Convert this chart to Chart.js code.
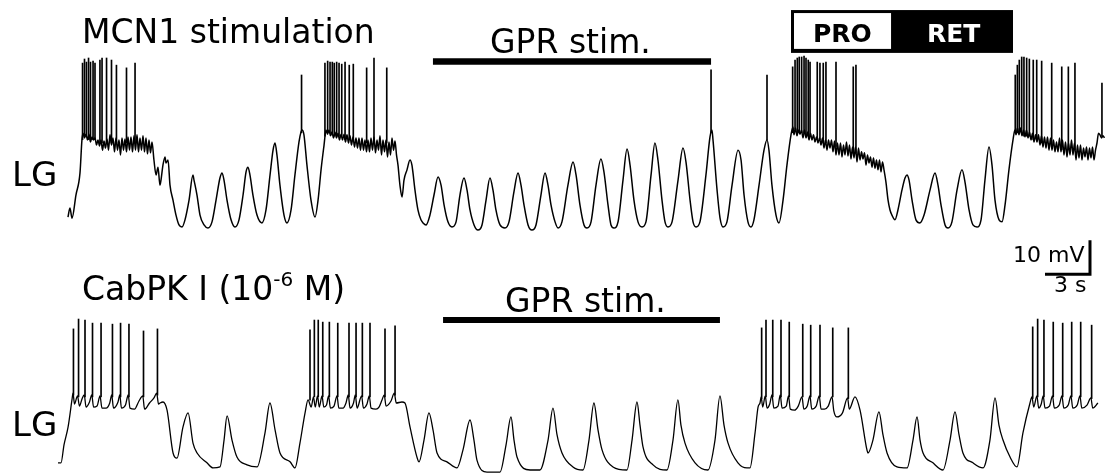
<!DOCTYPE html>
<html>
<head>
<meta charset="utf-8">
<script src="https://cdn.jsdelivr.net/npm/chart.js@4"></script>
<style>
  body { margin: 0; background: #fff; }
  #fig { position: relative; width: 1106px; height: 474px; overflow: hidden; }
  canvas { position: absolute; left: 0; }
  .lbl { position: absolute; line-height: 1; white-space: nowrap; font-family: 'DejaVu Sans', sans-serif; color: #000; z-index: 2; }
  .bold { font-weight: bold; font-size: 25px; }
</style>
</head>
<body>
<div id="fig">
  <canvas id="top" width="1106" height="237" style="top:0"></canvas>
  <canvas id="bottom" width="1106" height="237" style="top:237px"></canvas>

  <div class="lbl" style="left:82px;top:15px;font-size:33px">MCN1 stimulation</div>
  <div class="lbl" style="left:490px;top:25px;font-size:33px">GPR stim.</div>
  <div class="lbl bold" style="left:813px;top:21px">PRO</div>
  <div class="lbl bold" style="left:927px;top:21px;color:#fff">RET</div>
  <div class="lbl" style="left:12px;top:157px;font-size:34px">LG</div>

  <div class="lbl" style="left:82px;top:272px;font-size:33px">CabPK I (10<span style="font-size:20px;position:relative;top:-14px">-6</span> M)</div>
  <div class="lbl" style="left:505px;top:284px;font-size:33px">GPR stim.</div>
  <div class="lbl" style="left:12px;top:407px;font-size:34px">LG</div>
  <div class="lbl" style="left:1013px;top:244px;font-size:22px">10 mV</div>
  <div class="lbl" style="left:1054px;top:274px;font-size:22px">3 s</div>
</div>

<script>
// ---- top trace: MCN1 stimulation (time s, membrane potential mV) ----
const topBurst1 = [
  [0.00,-61.8],[0.13,-59.1],[0.27,-62.1],[0.53,-55.3],[0.80,-48.8],[0.93,-39.1],
  [1.0,-37.1],[1.1,-38.5],[1.2,-37.4],[1.3,-39.1],[1.4,-37.4],[1.5,-39.7],[1.6,-38.2],[1.7,-39.1],[1.8,-38.5],[1.9,-40.6],
  [2.0,-39.1],[2.1,-40.9],[2.2,-39.1],[2.3,-42.1],[2.4,-39.4],[2.5,-41.5],[2.6,-38.8],[2.7,-42.1],[2.8,-37.6],[2.9,-40.6],
  [3.0,-38.5],[3.1,-42.6],[3.2,-38.5],[3.3,-42.1],[3.4,-39.1],[3.5,-43.5],[3.6,-38.5],[3.7,-42.1],[3.8,-38.8],[3.9,-42.6],
  [4.0,-38.2],[4.1,-42.1],[4.2,-38.2],[4.3,-42.6],[4.4,-37.9],[4.5,-42.1],[4.6,-37.6],[4.7,-42.6],[4.8,-38.5],[4.9,-42.1],
  [5.0,-37.9],[5.1,-42.6],[5.2,-38.5],[5.3,-43.2],[5.4,-39.1],[5.5,-42.9],[5.6,-39.7]
]
const topCycles1 = [
  [5.73,-45.0],[5.87,-49.4],[6.00,-47.1],[6.13,-52.4],[6.20,-50.9],[6.33,-46.5],[6.47,-44.1],[6.53,-45.9],[6.67,-45.0],
  [6.80,-52.4],[7.00,-56.8],[7.20,-61.2],[7.40,-64.1],[7.60,-64.7],[7.80,-62.6],[8.07,-56.8],[8.33,-49.4],[8.40,-50.9],
  [8.60,-55.3],[8.80,-61.2],[9.07,-64.1],[9.33,-65.0],[9.60,-63.2],[9.87,-56.8],[10.13,-50.3],[10.27,-48.8],[10.40,-50.9],
  [10.60,-56.8],[10.87,-62.6],[11.13,-64.7],[11.40,-62.6],[11.67,-55.3],[11.87,-48.5],[12.00,-47.1],[12.13,-49.4],
  [12.33,-55.3],[12.60,-61.2],[12.93,-63.5],[13.20,-59.7],[13.47,-49.4],[13.67,-42.1],[13.80,-40.0],[13.93,-43.5],
  [14.13,-52.4],[14.40,-61.2],[14.60,-63.5],[14.87,-59.7],[15.13,-49.4],[15.40,-39.7],[15.53,-36.8],[15.60,-36.2],
  [15.73,-37.6],[15.93,-46.5],[16.20,-56.8],[16.47,-61.8],[16.67,-56.8],[16.87,-47.9],[17.07,-40.6],[17.20,-36.2]
]
const topBurst2 = [
  [17.3,-37.4],[17.4,-36.2],[17.5,-37.9],[17.6,-36.8],[17.7,-38.5],[17.8,-36.8],[17.9,-38.5],[18.0,-37.1],[18.1,-39.1],
  [18.2,-37.4],[18.3,-39.1],[18.4,-37.4],[18.5,-39.7],[18.6,-37.6],[18.7,-40.0],[18.8,-37.9],[18.9,-40.6],[19.0,-38.2],
  [19.1,-41.2],[19.2,-38.5],[19.3,-41.5],[19.4,-38.5],[19.5,-42.1],[19.6,-38.5],[19.7,-42.1],[19.8,-39.1],[19.9,-42.6],
  [20.0,-39.1],[20.1,-42.6],[20.2,-38.5],[20.3,-42.1],[20.4,-38.2],[20.5,-42.9],[20.6,-39.1],[20.7,-42.1],[20.8,-37.9],
  [20.9,-43.5],[21.0,-39.1],[21.1,-42.6],[21.2,-39.1],[21.3,-44.1],[21.4,-39.7],[21.5,-43.5],[21.6,-38.5],[21.7,-42.1],
  [21.8,-39.4],[21.9,-43.5]
]
const topGpr = [
  [22.00,-46.5],[22.13,-52.4],[22.27,-55.9],[22.40,-50.9],[22.60,-47.9],[22.80,-45.0],[22.93,-46.5],[23.00,-48.8],
  [23.13,-53.8],[23.33,-59.7],[23.53,-62.6],[23.67,-63.5],[23.87,-64.1],[24.13,-61.2],[24.40,-55.3],[24.67,-50.0],
  [24.87,-52.4],[25.07,-58.2],[25.33,-63.2],[25.60,-64.7],[25.87,-63.2],[26.13,-55.3],[26.40,-50.3],[26.60,-53.8],
  [26.80,-59.7],[27.07,-64.1],[27.33,-65.6],[27.60,-64.1],[27.87,-56.8],[28.13,-50.3],[28.33,-53.8],[28.53,-59.7],
  [28.80,-64.1],[29.13,-65.0],[29.40,-63.2],[29.73,-54.4],[30.00,-48.8],[30.20,-52.4],[30.40,-58.2],[30.67,-64.1],
  [30.93,-65.6],[31.20,-64.1],[31.53,-55.3],[31.80,-48.8],[32.00,-52.4],[32.20,-58.2],[32.47,-63.2],[32.67,-65.0],
  [32.93,-63.2],[33.33,-52.4],[33.67,-45.6],[33.87,-49.4],[34.13,-58.2],[34.40,-64.1],[34.60,-65.0],[34.87,-63.2],
  [35.20,-52.4],[35.53,-44.7],[35.73,-48.5],[36.00,-58.2],[36.20,-64.1],[36.40,-65.0],[36.67,-63.2],[37.00,-50.9],
  [37.27,-41.8],[37.47,-46.5],[37.73,-56.8],[38.00,-63.2],[38.27,-64.7],[38.53,-63.2],[38.87,-49.4],[39.13,-40.0],
  [39.33,-45.0],[39.60,-56.8],[39.80,-63.2],[40.00,-64.7],[40.27,-63.2],[40.67,-50.9],[41.00,-41.5],[41.20,-45.6],
  [41.47,-56.8],[41.67,-63.2],[41.87,-64.7],[42.13,-63.2],[42.53,-49.4],[42.80,-38.2],[42.93,-36.2],[43.00,-39.1],
  [43.27,-53.8],[43.47,-62.1],[43.67,-64.7],[43.93,-63.2],[44.27,-52.4],[44.67,-42.1],[44.87,-45.0],[45.07,-55.3],
  [45.33,-63.2],[45.53,-64.7],[45.73,-62.6],[46.07,-52.4],[46.40,-42.1],[46.60,-39.1],[46.73,-42.1],[46.93,-52.4],
  [47.20,-61.2],[47.40,-63.5],[47.67,-56.8],[47.93,-46.5],[48.20,-37.6],[48.33,-35.3]
]
const topBurst3 = [
  [48.4,-37.6],[48.5,-35.6],[48.6,-37.9],[48.7,-36.2],[48.8,-37.4],[48.9,-36.2],[49.0,-38.5],[49.1,-36.2],[49.2,-38.5],
  [49.3,-36.8],[49.4,-39.1],[49.5,-37.1],[49.6,-39.1],[49.7,-37.6],[49.8,-39.7],[49.9,-38.2],[50.0,-40.0],[50.1,-38.5],
  [50.2,-40.6],[50.3,-38.5],[50.4,-41.5],[50.5,-39.1],[50.6,-42.1],[50.7,-39.1],[50.8,-41.5],[50.9,-39.1],[51.0,-42.6],
  [51.1,-39.4],[51.2,-43.5],[51.3,-40.0],[51.4,-43.5],[51.5,-40.0],[51.6,-44.1],[51.7,-40.6],[51.8,-43.5],[51.9,-39.7],
  [52.0,-43.8],[52.1,-40.6],[52.2,-44.7],[52.3,-41.2],[52.4,-44.4],[52.5,-41.2],[52.6,-45.6],[52.7,-41.5],[52.8,-45.0],
  [52.9,-42.6],[53.0,-44.7],[53.1,-42.9],[53.2,-46.5],[53.3,-43.5],[53.4,-45.9],[53.5,-44.1],[53.6,-47.1],[53.7,-44.4],
  [53.8,-47.4],[53.9,-45.0],[54.0,-47.9],[54.1,-45.0],[54.2,-48.5],[54.3,-45.6],[54.4,-47.9]
]
const topCycles2 = [
  [54.53,-51.5],[54.67,-56.8],[54.80,-59.7],[54.93,-61.2],[55.13,-62.6],[55.33,-59.7],[55.60,-53.8],[55.80,-50.3],
  [55.93,-49.4],[56.07,-50.9],[56.27,-56.8],[56.53,-62.6],[56.80,-63.5],[57.07,-61.2],[57.47,-53.8],[57.80,-48.8],
  [58.00,-52.4],[58.20,-58.2],[58.47,-64.1],[58.67,-65.0],[58.93,-63.2],[59.27,-53.8],[59.60,-47.9],[59.80,-51.5],
  [60.07,-59.7],[60.33,-64.1],[60.60,-64.7],[60.87,-62.6],[61.13,-50.9],[61.40,-41.2],[61.60,-46.5],[61.80,-56.8],
  [62.07,-62.6],[62.27,-63.2],[62.47,-58.2],[62.73,-47.9],[63.00,-39.1],[63.13,-36.2]
]
const topBurst4 = [
  [63.2,-37.6],[63.3,-35.6],[63.4,-37.6],[63.5,-35.6],[63.6,-37.9],[63.7,-36.2],[63.8,-38.2],[63.9,-36.2],[64.0,-38.5],
  [64.1,-36.8],[64.2,-39.1],[64.3,-37.1],[64.4,-39.7],[64.5,-37.6],[64.6,-39.7],[64.7,-37.6],[64.8,-40.6],[64.9,-37.9],
  [65.0,-41.2],[65.1,-38.2],[65.2,-41.5],[65.3,-38.2],[65.4,-42.1],[65.5,-38.5],[65.6,-42.1],[65.7,-39.1],[65.8,-42.6],
  [65.9,-39.7],[66.0,-42.6],[66.1,-38.5],[66.2,-42.6],[66.3,-39.1],[66.4,-43.5],[66.5,-39.7],[66.6,-44.1],[66.7,-40.0],
  [66.8,-43.5],[66.9,-39.1],[67.0,-43.5],[67.1,-40.0],[67.2,-45.0],[67.3,-40.6],[67.4,-44.4],[67.5,-40.6],[67.6,-45.0],
  [67.7,-41.5],[67.8,-44.1],[67.9,-41.2],[68.0,-45.0],[68.1,-41.5],[68.2,-44.4],[68.3,-41.2],[68.4,-45.0],[68.5,-42.1],
  [68.6,-40.0],[68.7,-37.1],[68.8,-37.6],[68.9,-38.5],[69.0,-37.9],[69.1,-38.5]
]
// spikes: [time s, foot mV, peak mV]
const topSpikes = [
  [0.97,-39,-16.5],[1.10,-38,-15.3],[1.23,-38,-16.2],[1.37,-39,-15.0],[1.50,-39,-16.2],[1.67,-39,-15.9],[1.80,-39,-16.5],
  [2.13,-40,-15.6],[2.27,-40,-15.0],[2.57,-40,-15.0],[2.90,-40,-15.6],[3.23,-40,-17.1],[3.90,-40,-17.9],[4.47,-40,-16.5],
  [15.57,-37,-20.0],
  [17.13,-38,-16.5],[17.31,-37,-15.9],[17.47,-37,-16.2],[17.62,-37,-16.2],[17.75,-38,-16.5],[17.91,-38,-16.2],[18.07,-38,-16.5],
  [18.25,-38,-16.8],[18.47,-39,-16.2],[18.75,-39,-17.1],[19.02,-39,-16.8],[19.91,-40,-17.9],[20.40,-40,-15.0],[21.25,-40,-17.9],
  [42.87,-37,-18.5],[46.60,-39,-20.0],
  [48.31,-37,-17.6],[48.47,-36,-15.6],[48.62,-37,-15.0],[48.75,-37,-14.7],[48.91,-37,-14.7],[49.07,-37,-14.4],[49.20,-38,-15.0],
  [49.35,-38,-15.6],[49.47,-38,-16.2],[49.95,-39,-16.2],[50.13,-39,-16.5],[50.35,-40,-16.5],[50.53,-40,-16.2],[51.20,-41,-16.2],
  [52.35,-43,-17.6],[52.53,-43,-17.1],
  [63.15,-37,-20.0],[63.29,-37,-17.1],[63.42,-37,-15.6],[63.58,-37,-14.7],[63.73,-38,-14.7],[63.91,-38,-15.0],[64.09,-38,-15.3],
  [64.35,-39,-15.6],[64.58,-39,-15.6],[64.91,-40,-15.9],[65.58,-41,-16.5],[66.25,-42,-17.6],[66.69,-42,-17.6],[67.13,-42,-16.5],
  [68.93,-38,-22.4]
]
const topStim = [[24.33,-16.0],[42.87,-16.0]]
// PRO / RET phases of the third cycle
const phaseNames = ['PRO','RET']
const phaseStart = [48.2, 54.87]
const phaseEnd = [54.87, 63.0]
const phaseTop = -0.9
const phaseBottom = -13.5

// ---- bottom trace: CabPK I ----
const botBurst1 = [
  [0.00,-62.9],[0.20,-62.9],[0.40,-57.6],[0.67,-52.4],[0.93,-44.4],[1.00,-42.4],
  [1.10,-45.6],[1.30,-43.2],[1.43,-46.2],[1.60,-44.1],[1.75,-42.9],[1.87,-46.5],[2.10,-45.0],[2.25,-42.9],[2.37,-46.5],
  [2.60,-46.2],[2.80,-43.2],[2.93,-46.8],[3.20,-46.8],[3.45,-45.3],[3.58,-42.9],[3.70,-46.8],[4.00,-45.0],[4.12,-42.9],
  [4.23,-46.8],[4.50,-45.9],[4.68,-42.9],[4.80,-46.8],[5.10,-47.1],[5.40,-44.7],[5.65,-43.2],[5.77,-47.1],[6.10,-45.3],
  [6.40,-43.8],[6.58,-42.4],[6.70,-45.6]
]
const botCycles1 = [
  [6.80,-45.3],[7.00,-45.0],[7.27,-47.4],[7.67,-60.0],[7.93,-61.5],[8.33,-52.4],[8.67,-48.2],[9.00,-57.1],[9.27,-60.0],
  [9.93,-62.9],[10.33,-64.4],[10.80,-64.1],[11.07,-56.2],[11.27,-49.1],[11.60,-56.2],[11.93,-61.2],[12.60,-63.5],
  [13.27,-64.1],[13.80,-54.1],[14.13,-45.3],[14.47,-53.2],[14.80,-60.0],[15.47,-62.6],[15.80,-64.4],[16.13,-57.1],
  [16.47,-48.2],[16.67,-44.4]
]
const botBurst2 = [
  [16.88,-46.5],[17.03,-43.5],[17.15,-46.5],[17.30,-43.2],[17.42,-46.5],[17.60,-43.2],[17.72,-46.5],[17.90,-45.9],
  [18.04,-43.2],[18.16,-46.8],[18.40,-46.2],[18.60,-43.2],[18.72,-46.8],[19.00,-46.8],[19.20,-45.3],[19.35,-42.9],
  [19.47,-46.8],[19.70,-45.3],[19.82,-42.9],[19.94,-46.8],[20.24,-43.2],[20.36,-46.8],[20.60,-45.6],[20.75,-43.2],
  [20.87,-46.8],[21.20,-47.1],[21.40,-46.5],[21.60,-44.4],[21.75,-42.9],[21.87,-46.2],[22.20,-44.7],[22.42,-42.4],[22.55,-45.3]
]
const botGpr = [
  [22.93,-45.0],[23.13,-45.3],[23.47,-52.4],[23.93,-61.2],[24.07,-62.6],[24.40,-56.2],[24.73,-48.2],[25.00,-53.2],
  [25.27,-60.0],[25.93,-62.6],[26.60,-64.4],[27.00,-59.1],[27.47,-50.3],[27.73,-56.2],[27.93,-62.1],[28.60,-65.6],
  [29.47,-65.6],[29.87,-57.6],[30.20,-49.4],[30.40,-56.2],[30.60,-61.2],[31.47,-65.0],[32.13,-65.0],[32.67,-56.2],
  [33.00,-46.8],[33.27,-54.7],[33.60,-60.0],[34.33,-64.1],[35.00,-65.0],[35.40,-56.2],[35.73,-45.3],[36.00,-53.2],
  [36.27,-59.1],[37.00,-64.1],[37.93,-65.0],[38.27,-56.2],[38.60,-45.0],[38.80,-51.8],[39.00,-58.2],[39.67,-63.5],
  [40.60,-65.0],[41.00,-56.2],[41.33,-44.4],[41.53,-51.8],[41.80,-57.1],[42.47,-62.9],[43.33,-65.0],[43.80,-56.2],
  [44.13,-43.2],[44.40,-51.8],[44.67,-57.1],[45.33,-62.9],[45.93,-64.4],[46.13,-64.4],[46.47,-54.1],[46.67,-46.5],[46.80,-45.3]
]
const botBurst3 = [
  [46.88,-43.5],[46.98,-46.5],[47.15,-43.2],[47.27,-46.8],[47.45,-45.6],[47.60,-42.9],[47.72,-46.8],[48.00,-46.2],
  [48.15,-42.9],[48.27,-46.8],[48.55,-46.2],[48.70,-43.2],[48.82,-47.1],[49.10,-47.4],[49.35,-46.2],[49.60,-43.5],
  [49.72,-47.1],[49.95,-46.2],[50.13,-43.2],[50.25,-47.1],[50.55,-46.2],[50.75,-43.2],[50.87,-47.1],[51.10,-47.1],
  [51.35,-46.2],[51.60,-43.5],[51.72,-47.6],[51.93,-49.4],[52.30,-48.2],[52.64,-43.8],[52.75,-47.1]
]
const botCycles2 = [
  [53.13,-43.5],[53.47,-47.4],[53.93,-59.1],[54.00,-60.0],[54.33,-56.2],[54.73,-47.9],[55.00,-54.7],[55.27,-60.0],
  [55.93,-64.1],[56.60,-64.4],[57.00,-56.2],[57.27,-49.4],[57.47,-56.2],[57.67,-60.0],[58.33,-62.9],[59.00,-65.0],
  [59.47,-56.2],[59.80,-47.9],[60.07,-54.7],[60.33,-60.0],[61.00,-62.9],[61.67,-64.4],[62.13,-56.2],[62.47,-43.8],
  [62.73,-51.8],[63.00,-56.2],[63.47,-61.2],[63.93,-64.1],[64.33,-54.1],[64.80,-45.3]
]
const botBurst4 = [
  [64.93,-43.5],[65.05,-46.5],[65.26,-43.2],[65.38,-46.8],[65.55,-45.6],[65.68,-43.2],[65.80,-46.8],[66.10,-46.2],
  [66.30,-43.2],[66.42,-46.8],[66.75,-45.9],[66.93,-43.2],[67.05,-46.8],[67.35,-45.9],[67.53,-43.2],[67.65,-46.8],
  [67.95,-45.9],[68.13,-43.2],[68.25,-46.8],[68.60,-45.9],[68.86,-43.8],[68.98,-46.8],[69.33,-45.3]
]
const botSpikes = [
  [1.03,-43,-23.5],[1.37,-43.5,-20.6],[1.80,-43.5,-20.9],[2.30,-43.5,-21.8],[2.87,-43.5,-21.8],[3.63,-43.5,-22.1],
  [4.17,-43.5,-21.8],[4.73,-43.5,-22.1],[5.70,-43.5,-24.1],[6.63,-43,-23.5],
  [16.80,-44.5,-23.8],[17.09,-43.5,-20.9],[17.35,-43.5,-20.9],[17.65,-43.5,-21.5],[18.09,-43.5,-21.5],[18.65,-43.5,-21.8],
  [19.40,-43.5,-21.8],[19.87,-43.5,-21.8],[20.29,-43.5,-21.8],[20.80,-43.5,-21.8],[21.80,-43.5,-23.5],[22.47,-43,-22.6],
  [46.91,-44,-23.2],[47.20,-43.5,-20.9],[47.65,-43.5,-20.9],[48.20,-43.5,-20.9],[48.75,-43.5,-21.5],[49.65,-43.5,-22.1],
  [50.18,-43.5,-22.4],[50.80,-43.5,-22.4],[51.65,-43.5,-23.2],[52.69,-44,-23.2],
  [64.98,-44,-22.9],[65.31,-43.5,-20.6],[65.73,-43.5,-20.9],[66.35,-43.5,-21.5],[66.98,-43.5,-21.8],[67.58,-43.5,-21.5],
  [68.18,-43.5,-21.5],[68.91,-44,-22.4]
]
const botStim = [[25.67,-20.9],[44.13,-20.9]]
// 3 s / 10 mV calibration
const scaleBar = [[65.8,-7.4],[68.8,-7.4],[68.8,2.6]]

const xy = (arr) => arr.map(([x, y]) => ({ x, y }))

const phaseBoxPlugin = {
  id: 'phaseBox',
  afterDatasetsDraw (chart) {
    const { ctx, scales: { x, y } } = chart
    const top = y.getPixelForValue(phaseTop)
    const bottom = y.getPixelForValue(phaseBottom)
    const left = x.getPixelForValue(phaseStart[0])
    const right = x.getPixelForValue(phaseEnd[phaseEnd.length - 1])
    ctx.save()
    ctx.fillStyle = '#000'
    ctx.fillRect(left, top, right - left, bottom - top)
    phaseNames.forEach((name, i) => {
      if (name !== 'PRO') return
      const a = x.getPixelForValue(phaseStart[i])
      const b = x.getPixelForValue(phaseEnd[i])
      ctx.fillStyle = '#fff'
      ctx.fillRect(a + 3, top + 3, b - a - 3, bottom - top - 7)
    })
    ctx.restore()
  }
}

function tracePanel (id, segments, spikes, extras, xr, yr, width, plugins) {
  const lineStyle = {
    type: 'line',
    borderColor: '#000',
    borderWidth: width,
    pointRadius: 0,
    cubicInterpolationMode: 'monotone',
    fill: false
  }
  const datasets = [
    {
      type: 'bar',
      data: spikes.map(([t, foot, peak]) => ({ x: t, y: [foot, peak] })),
      backgroundColor: '#000',
      borderWidth: 0,
      barThickness: 1,
      grouped: false
    },
    { ...lineStyle, data: xy(segments.flat()) },
    ...extras
  ]
  return new Chart(document.getElementById(id), {
    type: 'line',
    data: { datasets },
    options: {
      responsive: false,
      animation: false,
      devicePixelRatio: 1,
      layout: { padding: 0 },
      events: [],
      plugins: { legend: { display: false }, tooltip: { enabled: false } },
      scales: {
        x: { type: 'linear', display: false, offset: false, bounds: 'data', min: xr[0], max: xr[1] },
        y: { type: 'linear', display: false, bounds: 'data', min: yr[0], max: yr[1] }
      }
    },
    plugins
  })
}

const barStyle = { type: 'line', borderColor: '#000', pointRadius: 0, borderCapStyle: 'butt', fill: false }

tracePanel('top',
  [topBurst1, topCycles1, topBurst2, topGpr, topBurst3, topCycles2, topBurst4],
  topSpikes,
  [{ ...barStyle, borderWidth: 6.5, data: xy(topStim) }],
  [-4.533, 69.2], [-67.65, 2.06], 1.5,
  [phaseBoxPlugin])

tracePanel('bottom',
  [botBurst1, botCycles1, botBurst2, botGpr, botBurst3, botCycles2, botBurst4],
  botSpikes,
  [
    { ...barStyle, borderWidth: 6, data: xy(botStim) },
    { ...barStyle, borderWidth: 3, borderJoinStyle: 'miter', data: xy(scaleBar) }
  ],
  [-3.867, 69.867], [-66.18, 3.53], 1.3,
  [])
</script>
</body>
</html>
